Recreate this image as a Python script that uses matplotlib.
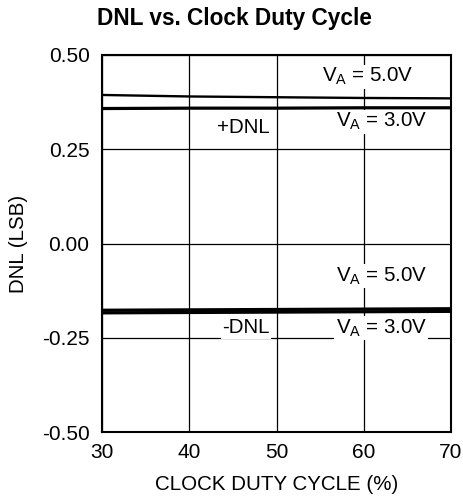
import matplotlib
matplotlib.use('Agg')
import matplotlib.pyplot as plt

plt.rcParams['font.family'] = ['Liberation Sans', 'DejaVu Sans']
plt.rcParams['mathtext.fontset'] = 'custom'
plt.rcParams['mathtext.rm'] = 'Liberation Sans'
plt.rcParams['mathtext.it'] = 'Liberation Sans'

# data
duty = [30, 40, 50, 60, 70]
pos_dnl_5v = [0.394, 0.390, 0.388, 0.386, 0.385]
pos_dnl_3v = [0.358, 0.359, 0.359, 0.360, 0.360]
neg_dnl_5v = [-0.177, -0.176, -0.175, -0.174, -0.173]
neg_dnl_3v = [-0.184, -0.183, -0.182, -0.181, -0.180]

xticks = [30, 40, 50, 60, 70]
yticks = [-0.50, -0.25, 0.00, 0.25, 0.50]
ytick_labels = ['-0.50', '-0.25', '0.00', '0.25', '0.50']

fig = plt.figure(figsize=(4.64, 5.0), dpi=100)
ax = fig.add_axes([0.220, 0.136, 0.752, 0.754])

ax.plot(duty, pos_dnl_5v, color='black', lw=1.7, zorder=5)
ax.plot(duty, pos_dnl_3v, color='black', lw=2.3, zorder=5)
ax.plot(duty, neg_dnl_5v, color='black', lw=2.3, zorder=5)
ax.plot(duty, neg_dnl_3v, color='black', lw=2.3, zorder=5)

ax.set_xlim(30, 70)
ax.set_ylim(-0.5, 0.5)
ax.set_xticks(xticks)
ax.set_yticks(yticks)
ax.set_yticklabels(ytick_labels)
ax.tick_params(axis='y', length=0, labelsize=15, pad=9)
ax.tick_params(axis='x', length=0, labelsize=15, pad=8)
ax.grid(True, color='black', lw=0.9, zorder=1)
ax.set_axisbelow(True)
for s in ax.spines.values():
    s.set_linewidth(1.5)

box = dict(facecolor='white', edgecolor='none', pad=1.0)
kw = dict(fontsize=14.8, ha='center', va='baseline', bbox=box, zorder=3)
ax.text(60.5, 0.428, 'V$_\\mathrm{A}$ = 5.0V', **kw)
ax.text(62.0, 0.309, 'V$_\\mathrm{A}$ = 3.0V', **kw)
ax.text(46.2, 0.293, '+DNL', **kw)
ax.text(62.0, -0.101, 'V$_\\mathrm{A}$ = 5.0V', **kw)
ax.text(62.0, -0.238, 'V$_\\mathrm{A}$ = 3.0V', **kw)
ax.text(46.5, -0.238, '-DNL', **kw)

ax.set_xlabel('CLOCK DUTY CYCLE (%)', fontsize=14.8, labelpad=9)
ax.set_ylabel('DNL (LSB)', fontsize=14.8, labelpad=10)
fig.text(0.505, 0.963, 'DNL vs. Clock Duty Cycle', fontsize=16.3,
         fontweight='bold', ha='center', va='center')

fig.savefig('out.png', dpi=100)
